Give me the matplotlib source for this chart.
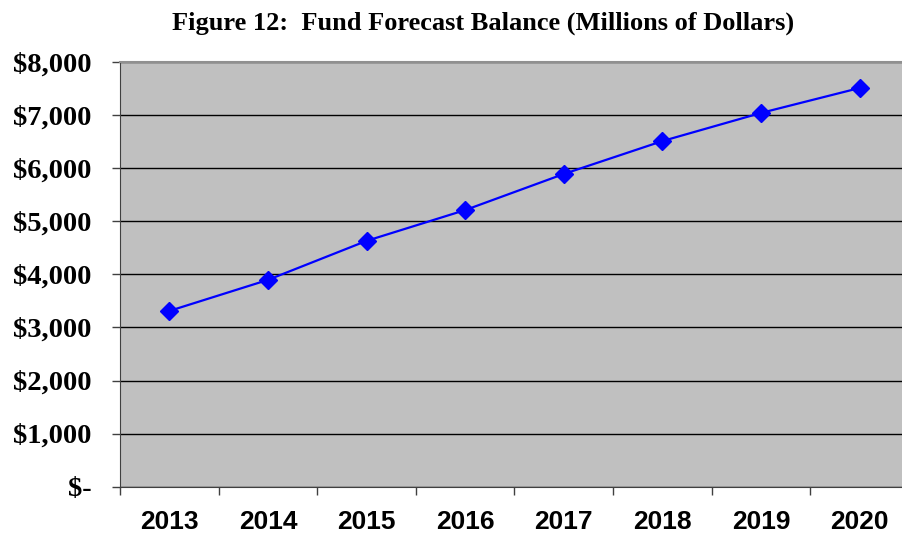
import matplotlib.pyplot as plt
import matplotlib.ticker as mticker

years = ["2013", "2014", "2015", "2016", "2017", "2018", "2019", "2020"]
balance = [3310, 3895, 4630, 5210, 5890, 6510, 7040, 7510]
y_ticks = [0, 1000, 2000, 3000, 4000, 5000, 6000, 7000, 8000]


def money(v, _pos=None):
    return "$-" if v == 0 else f"${v:,.0f}"


fig = plt.figure(figsize=(9.02, 5.37), dpi=100)
# plot area runs slightly past the right edge, as in the source image
ax = fig.add_axes([0.1330, 0.0937, 0.8747, 0.7909])
ax.set_facecolor("#C0C0C0")

x = list(range(len(years)))
ax.plot(x, balance, color="#0000FF", linewidth=1.6, marker="D",
        markersize=9, markeredgecolor="#0000FF", zorder=3)

ax.set_xlim(-0.5, len(years) - 0.5)
ax.set_ylim(0, 8000)

# y axis
ax.set_yticks(y_ticks)
ax.yaxis.set_major_formatter(mticker.FuncFormatter(money))
ax.grid(axis="y", color="black", linewidth=1.0)
ax.set_axisbelow(True)
ax.tick_params(axis="y", length=6, width=1, color="#404040", pad=14.5)
for lab in ax.get_yticklabels():
    lab.set_fontfamily("Liberation Serif")
    lab.set_fontweight("bold")
    lab.set_fontsize(20.5)

# x axis: tick marks between categories, labels centred
ax.set_xticks([i - 0.5 for i in range(len(years) + 1)])
ax.set_xticklabels([])
ax.set_xticks(x, minor=True)
ax.set_xticklabels(years, minor=True)
ax.tick_params(axis="x", which="major", length=6, width=1, color="#404040")
ax.tick_params(axis="x", which="minor", length=0, pad=17)
for lab in ax.get_xticklabels(minor=True):
    lab.set_fontfamily("Liberation Sans")
    lab.set_fontweight("bold")
    lab.set_fontsize(19)

ax.spines["left"].set_color("#404040")
ax.spines["bottom"].set_color("#404040")
ax.spines["top"].set_color("#909090")
ax.spines["top"].set_linewidth(1.5)
ax.spines["right"].set_visible(False)

fig.text(0.535, 0.957, "Figure 12:  Fund Forecast Balance (Millions of Dollars)",
         ha="center", va="center", fontfamily="Liberation Serif",
         fontweight="bold", fontsize=19)

fig.savefig("out.png", dpi=100)
